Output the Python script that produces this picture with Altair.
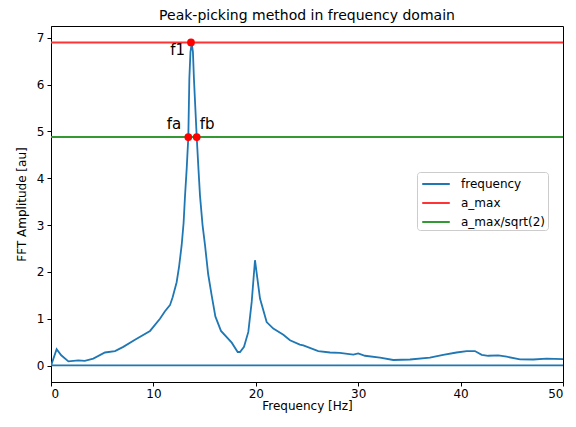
import altair as alt
import pandas as pd

# FFT amplitude spectrum (traced); the last three points are the wrap-around
# segment that matplotlib draws back along zero.
freq_hz = [0.0, 0.07, 0.55, 1.0, 1.7, 2.67, 3.3, 4.13, 5.27, 6.25, 7.06, 8.2, 9.67,
           10.64, 11.13, 11.62, 11.88, 12.27, 12.5, 12.76, 12.95, 13.09, 13.25, 13.41,
           13.51, 13.62, 13.74, 13.86, 13.96, 14.23, 14.4, 14.55, 14.8, 15.04,
           15.35, 15.69, 16.05, 16.6, 17.65, 18.23, 18.46,
           18.85, 19.27, 19.6, 19.92, 20.41, 21.06, 21.71, 22.69, 23.34, 24.3,
           24.64, 26.1, 27.25, 28.2, 29.52, 30.0, 30.66, 32.13, 33.43, 35.06,
           37.0, 38.3, 39.6, 40.6, 41.4, 42.06, 42.7, 43.68, 44.5, 45.8, 47.1,
           48.4, 50.0, 51.0, 51.0, -1.0]
amplitude = [0.0, 0.04, 0.35, 0.22, 0.09, 0.11, 0.10, 0.15, 0.28, 0.31, 0.40, 0.55,
             0.74, 1.0, 1.16, 1.29, 1.46, 1.78, 2.1, 2.57, 3.05, 3.63, 4.2, 4.88,
             6.12, 6.7, 6.88, 6.7, 6.12, 4.88, 4.2, 3.63, 3.0, 2.57,
             1.95, 1.5, 1.05, 0.74, 0.49, 0.29, 0.29,
             0.40, 0.72, 1.36, 2.25, 1.43, 0.93, 0.79, 0.66, 0.54, 0.45,
             0.43, 0.31, 0.28, 0.27, 0.235, 0.26, 0.21, 0.17, 0.12, 0.13,
             0.17, 0.23, 0.28, 0.31, 0.31, 0.23, 0.21, 0.22, 0.19, 0.135, 0.13,
             0.15, 0.14, 0.14, 0.006, 0.006]

a_max = 6.9
a_half = 4.88

point_labels = ["f1", "fa", "fb"]
point_x = [13.67, 13.41, 14.23]
point_y = [6.9, 4.88, 4.88]
label_align = ["right", "right", "left"]
label_dx = [-6, -7, 3]
label_dy = [13, -8, -8]

series = ["frequency", "a_max", "a_max/sqrt(2)"]
colors = ["#1f77b4", "#ff3333", "#339933"]

FONT = "DejaVu Sans"

spec_df = pd.DataFrame({"f": freq_hz, "a": amplitude,
                        "order": list(range(len(freq_hz))),
                        "series": "frequency"})
rules_df = pd.DataFrame({"y": [a_max, a_half], "series": ["a_max", "a_max/sqrt(2)"]})
pts_df = pd.DataFrame({"x": point_x, "y": point_y, "label": point_labels})

xscale = alt.Scale(domain=[0, 50], nice=False, zero=False)
yscale = alt.Scale(domain=[-0.35, 7.25], nice=False, zero=False)
color = alt.Color("series:N",
                  scale=alt.Scale(domain=series, range=colors),
                  legend=alt.Legend(title=None, orient="none", legendX=366, legendY=146,
                                    symbolType="M-1.53,0L1.53,0", symbolStrokeWidth=2,
                                    symbolSize=324, symbolOffset=7,
                                    labelFontSize=12, labelFont=FONT,
                                    labelColor="#000", rowPadding=3, labelOffset=15,
                                    padding=2, strokeColor="#cccccc", fillColor="white",
                                    cornerRadius=3))

xaxis = alt.Axis(title="Frequency [Hz]", values=[0, 10, 20, 30, 40, 50], grid=False,
                 tickColor="#000", domainColor="#000", labelColor="#000",
                 titleColor="#000", labelFontSize=12, titleFontSize=12,
                 titleFontWeight="normal", labelFont=FONT, titleFont=FONT,
                 tickSize=4, labelPadding=2, titlePadding=1)
yaxis = alt.Axis(title="FFT Amplitude [au]", values=list(range(0, 8)), grid=False,
                 tickColor="#000", domainColor="#000", labelColor="#000",
                 titleColor="#000", labelFontSize=12, titleFontSize=12,
                 titleFontWeight="normal", labelFont=FONT, titleFont=FONT,
                 tickSize=4, labelPadding=3, titlePadding=8)

line = alt.Chart(spec_df).mark_line(strokeWidth=1.8, clip=True).encode(
    x=alt.X("f:Q", scale=xscale, axis=xaxis),
    y=alt.Y("a:Q", scale=yscale, axis=yaxis),
    order="order:Q",
    color=color,
)

rules = alt.Chart(rules_df).mark_rule(strokeWidth=2).encode(
    y=alt.Y("y:Q", scale=yscale),
    color=color,
)

pts = alt.Chart(pts_df).mark_circle(size=60, opacity=1, color="#ff0000").encode(
    x=alt.X("x:Q", scale=xscale),
    y=alt.Y("y:Q", scale=yscale),
)

texts = []
for i in range(3):
    t = alt.Chart(pts_df.iloc[[i]]).mark_text(
        align=label_align[i], baseline="alphabetic", dx=label_dx[i], dy=label_dy[i],
        fontSize=15, font=FONT, color="#000"
    ).encode(
        x=alt.X("x:Q", scale=xscale),
        y=alt.Y("y:Q", scale=yscale),
        text="label:N",
    )
    texts.append(t)

chart = alt.layer(line, rules, pts, *texts).properties(
    width=512, height=356,
    title=alt.TitleParams("Peak-picking method in frequency domain", fontSize=14,
                          font=FONT, fontWeight="normal", color="#000", offset=3),
    autosize=alt.AutoSizeParams(type="none"),
    padding={"left": 43, "top": 18, "right": 5, "bottom": 31},
).configure_view(stroke="#000", strokeWidth=1)

chart.save("out.html", embed_options={"renderer": "svg", "actions": False})
